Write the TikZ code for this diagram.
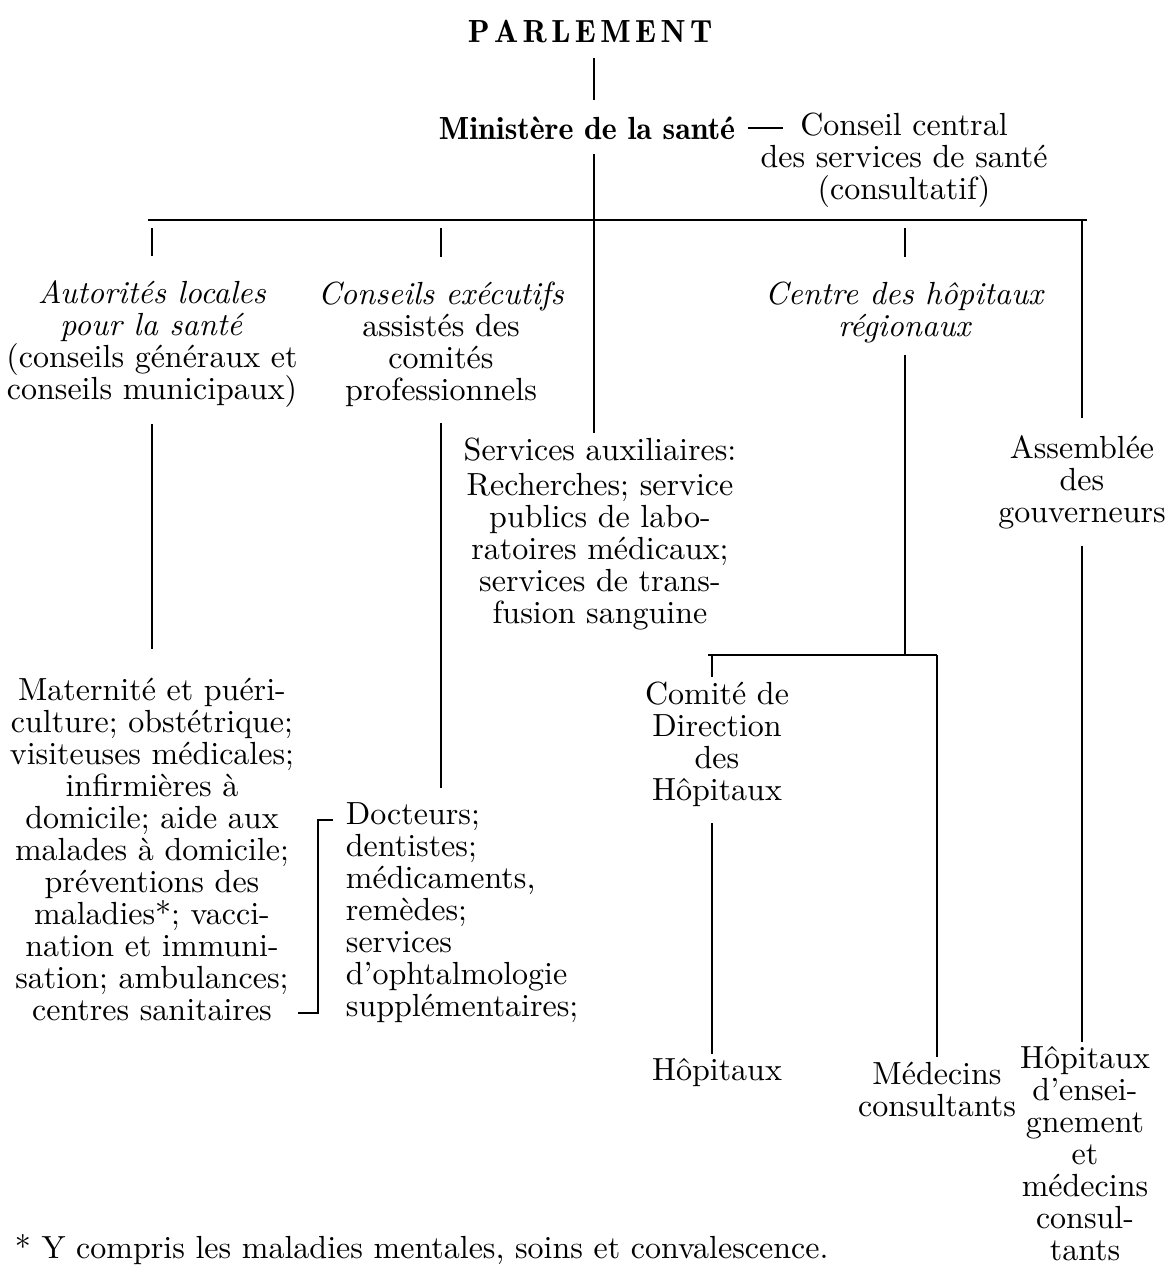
\documentclass[tikz,border=0pt]{standalone}
\usepackage{fontspec}
\setmainfont{lmroman10-regular.otf}[BoldFont=lmromandemi10-regular.otf,ItalicFont=lmroman10-italic.otf,BoldItalicFont=lmromandemi10-oblique.otf]
\begin{document}
\begin{tikzpicture}[x=0.5pt,y=-0.5pt,line width=0.9pt]
\tikzstyle{every node}=[font=\fontsize{16}{16}\selectfont,inner sep=2pt]
\tikzstyle{block}=[align=center]
\tikzstyle{drop}=[shorten <=4pt,shorten >=10pt]
\useasboundingbox (0,0) rectangle (1168,1275);
% top of the chart
\node (parl) at (590,32) {\bfseries P\kern2.2pt A\kern2.2pt R\kern2.2pt L\kern2.2pt E\kern2.2pt M\kern2.2pt E\kern2.2pt N\kern2.2pt T};
\node (min) at (587,128) {\bfseries Ministère de la santé};
\node[block] (cc) at (904,160) {Conseil central\\des services de santé\\(consultatif)};
\coordinate (dashE) at (783,128);
\coordinate (trunk) at (594,220);
\coordinate (barL) at (148,220);
\coordinate (barR) at (1087,220);
% second level
\node[block] (auto) at (152,344) {\textit{Autorités locales}\\\textit{pour la santé}\\(conseils généraux et\\conseils municipaux)};
\node[block] (cons) at (441,344) {\textit{Conseils exécutifs}\\assistés des\\comités\\professionnels};
\node[block] (chr) at (905,312) {\textit{Centre des hôpitaux}\\\textit{régionaux}};
\node (serv) at (600,450) {Services auxiliaires:};
\node[block] (servb) at (600,552) {Recherches; service\\publics de labo-\\ratoires médicaux;\\services de trans-\\fusion sanguine};
\node[block] (ass) at (1082,482) {Assemblée\\des\\gouverneurs};
% lower level
\node[block] (mat) at (152,849) {Maternité et puéri-\\culture; obstétrique;\\visiteuses médicales;\\infirmières à\\domicile; aide aux\\malades à domicile;\\préventions des\\maladies*; vacci-\\nation et immuni-\\sation; ambulances;\\centres sanitaires};
\node[align=left,anchor=west] (doc) at (341,913) {Docteurs;\\dentistes;\\médicaments,\\remèdes;\\services\\d’ophtalmologie\\supplémentaires;};
\coordinate (splitL) at (712,655);
\coordinate (splitR) at (937,655);
\node[block] (com) at (717,744) {Comité de\\Direction\\des\\Hôpitaux};
\node (hop) at (717,1073) {Hôpitaux};
\node[block] (med) at (937,1089) {Médecins\\consultants};
\node[block] (hens) at (1085,1154) {Hôpitaux\\d’ensei-\\gnement\\et\\médecins\\consul-\\tants};
\node[anchor=west] (foot) at (10,1250) {* Y compris les maladies mentales, soins et convalescence.};
% links
\draw[shorten <=5pt,shorten >=6pt] (parl.south -| trunk) -- (min.north -| trunk);
\draw[shorten <=5pt] (min.south -| trunk) -- (trunk);
\draw[shorten <=4pt] (min.east) -- (min.east -| dashE);
\draw[line width=1.2pt] (barL) -- (barR);
\foreach \n in {auto,cons,chr}
	\draw[drop] (\n.north |- trunk) -- (\n.north);
\draw (trunk) -- (serv.north -| trunk);
\draw[shorten >=6pt] (ass.north |- trunk) -- (ass.north);
\draw[shorten <=6pt,shorten >=12pt] (auto.south) -- (mat.north);
\draw[shorten <=6pt] (cons.south) -- ([yshift=5]cons.south |- doc.north);
\draw[shorten <=4pt] (chr.south) -- (chr.south |- splitR);
\draw ([xshift=-2]splitL) -- (splitR);
\draw (splitL) -- (splitL |- com.north);
\draw[shorten <=6pt] (com.south -| splitL) -- (hop.north -| splitL);
\draw (splitR) -- (med.north -| splitR);
\draw[shorten <=6pt] (ass.south) -- (ass.south |- hens.north);
% bracket between the two lists
\coordinate (brT) at (318,820);
\coordinate (brB) at (318,1013);
\draw ([xshift=7.5]brT) -- (brT) -- (brB) -- ([xshift=-10]brB);
\end{tikzpicture}
\end{document}
